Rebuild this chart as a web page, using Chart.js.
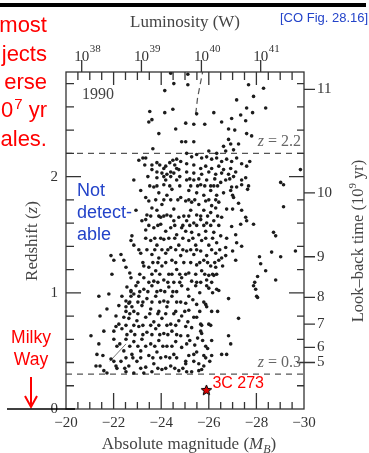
<!DOCTYPE html>
<html>
<head>
<meta charset="utf-8">
<script src="https://cdn.jsdelivr.net/npm/chart.js@4.4.1/dist/chart.umd.min.js"></script>
<style>
  html, body { margin: 0; padding: 0; background: #fff; overflow: hidden; }
  #wrap { position: relative; width: 369px; height: 453px; overflow: hidden; }
  #chart { position: absolute; left: 0; top: 0; }
  .note { position: absolute; font-family: "Liberation Sans", Arial, sans-serif; white-space: nowrap; }
  .red { color: #f00; }
  .blue { color: #2343c9; }
</style>
</head>
<body>
<div id="wrap">
  <canvas id="chart" width="369" height="453"></canvas>

  <div style="position:absolute;left:0;top:3px;width:366px;height:4px;background:#000"></div>

  <!-- cut-off slide text on the left -->
  <div class="note red" style="right:322px;top:14px;font-size:22px;line-height:22px">most</div>
  <div class="note red" style="right:322px;top:43px;font-size:22px;line-height:22px">jects</div>
  <div class="note red" style="right:322px;top:71px;font-size:22px;line-height:22px">erse</div>
  <div class="note red" style="right:322px;top:99px;font-size:22px;line-height:22px">10<span style="font-size:15px;position:relative;top:-8px;margin-left:1px">7</span> yr</div>
  <div class="note red" style="right:322px;top:128px;font-size:22px;line-height:22px">ales.</div>

  <div class="note blue" style="left:280px;top:11px;font-size:13px;line-height:13px">[CO Fig. 28.16]</div>

  <div class="note blue" style="left:77px;top:179px;font-size:18px;line-height:22px">Not<br>detect-<br>able</div>

  <div class="note red" style="left:0;width:62px;text-align:center;top:326px;font-size:17.5px;line-height:22px">Milky<br>Way</div>

  <svg style="position:absolute;left:0;top:0" width="369" height="453">
    <line x1="31" y1="377" x2="31" y2="406" stroke="#f00" stroke-width="2"/>
    <polyline points="25,396 31,407 37,396" fill="none" stroke="#f00" stroke-width="2"/>
    <line x1="7" y1="409" x2="75" y2="409" stroke="#000" stroke-width="1.6"/>
  </svg>
</div>

<script>
// --- Data ---
// absolute magnitude M_B and redshift z of each quasar
const quasars = [
  // z above 2.2
  [-24.40,2.89],[-24.53,2.80],[-24.15,2.74],[-23.52,2.56],[-24.15,2.55],[-24.49,2.58],[-23.61,2.49],[-23.48,2.47],
  [-24.61,2.41],[-23.90,2.37],[-24.86,2.30],[-23.65,2.24],[-25.12,2.79],[-27.67,2.79],[-28.30,2.76],[-27.88,2.69],
  [-27.17,2.66],[-27.59,2.59],[-27.84,2.55],[-26.21,2.55],[-25.49,2.54],[-27.34,2.53],[-26.96,2.50],[-27.55,2.48],
  [-26.54,2.47],[-25.03,2.46],[-25.37,2.45],[-25.83,2.45],[-26.83,2.41],[-27.09,2.40],[-27.59,2.37],[-27.80,2.35],
  [-25.03,2.30],[-25.37,2.30],[-26.83,2.32],[-26.92,2.28],[-27.25,2.28],[-26.62,2.26],[-26.00,2.22],[-26.33,2.20],
  [-26.71,2.22],[-27.04,2.23],[-28.39,2.59],[-25.12,2.88],
  // 1.8 - 2.2
  [-23.35,2.16],[-23.23,2.16],[-23.06,2.14],[-23.82,2.12],[-24.19,2.09],[-24.36,2.12],[-24.49,2.14],[-24.65,2.15],
  [-24.82,2.13],[-23.61,2.06],[-23.82,2.04],[-24.11,2.07],[-24.40,2.04],[-24.65,2.07],[-24.03,2.03],[-24.24,2.02],
  [-24.53,2.03],[-24.74,2.06],[-24.11,2.00],[-23.82,1.99],
  [-25.07,2.20],[-25.28,2.17],[-25.49,2.19],[-25.70,2.16],[-25.91,2.17],[-26.12,2.15],[-26.33,2.16],[-26.54,2.13],
  [-26.75,2.15],[-26.96,2.13],[-27.17,2.16],[-27.38,2.11],[-25.07,2.11],[-25.37,2.10],[-25.66,2.07],[-25.87,2.09],
  [-26.12,2.07],[-26.42,2.09],[-26.62,2.06],[-26.92,2.07],[-27.13,2.04],[-25.07,2.04],[-25.37,2.03],[-25.70,2.02],
  [-26.00,2.04],[-26.29,2.02],[-26.54,2.03],[-26.83,2.02],[-27.04,2.00],[-27.59,2.09],[-29.85,2.06],[-27.72,2.13],
  [-27.55,1.99],[-27.38,1.93],[-26.96,1.91],[-27.00,1.84],[-27.63,1.89],
  // 1.1 - 2.0, faint side
  [-22.85,1.97],[-23.14,1.88],[-23.35,1.82],[-23.48,1.79],[-22.94,1.71],[-23.19,1.62],[-23.35,1.63],[-22.77,1.49],
  [-22.73,1.45],[-22.85,1.41],[-22.31,1.33],[-22.43,1.28],[-21.89,1.32],[-22.01,1.28],[-23.06,1.37],[-23.14,1.34],
  [-22.52,1.22],[-22.68,1.17],[-21.93,1.16],[-22.73,1.13],[-23.27,1.23],
  [-23.69,1.91],[-23.90,1.86],[-24.11,1.93],[-24.24,1.84],[-24.45,1.89],[-24.65,1.97],[-24.82,1.82],[-23.61,1.73],
  [-23.82,1.71],[-24.03,1.76],[-24.24,1.67],[-24.53,1.72],[-24.74,1.65],[-23.69,1.56],[-23.98,1.59],[-24.19,1.53],
  [-24.40,1.56],[-24.65,1.50],[-23.56,1.45],[-23.82,1.41],[-24.11,1.46],[-24.40,1.39],[-24.74,1.41],[-23.61,1.33],
  [-23.90,1.30],[-24.19,1.34],[-24.45,1.28],[-24.82,1.32],[-23.48,1.22],[-23.77,1.19],[-24.03,1.23],[-24.32,1.16],
  [-24.65,1.20],[-24.86,1.13],[-23.27,1.13],[-23.69,1.10],[-24.11,1.11],[-24.53,1.09],[-23.35,1.54],[-23.40,1.67],
  [-24.19,1.97],[-24.53,1.62],[-23.98,1.65],[-24.86,1.56],
  // 1.1 - 2.0, bright side
  [-25.07,1.97],[-25.37,1.97],[-25.66,1.93],[-25.91,1.97],[-26.21,1.92],[-26.50,1.95],[-25.16,1.88],[-25.49,1.86],
  [-25.79,1.84],[-26.08,1.88],[-26.33,1.84],[-26.62,1.86],[-25.03,1.79],[-25.28,1.78],[-25.58,1.76],[-25.87,1.79],
  [-26.12,1.75],[-26.42,1.78],[-25.24,1.71],[-25.49,1.67],[-25.79,1.71],[-26.08,1.69],[-25.07,1.62],[-25.37,1.60],
  [-25.66,1.63],[-25.91,1.60],[-26.21,1.62],[-26.54,1.65],[-25.03,1.53],[-25.28,1.52],[-25.58,1.50],[-25.87,1.53],
  [-26.21,1.52],[-26.50,1.49],[-25.16,1.45],[-25.45,1.41],[-25.70,1.45],[-26.00,1.41],[-26.33,1.43],[-26.71,1.39],
  [-25.07,1.36],[-25.37,1.33],[-25.66,1.36],[-25.91,1.32],[-26.29,1.34],[-26.54,1.30],[-25.24,1.26],[-25.49,1.24],
  [-25.79,1.28],[-26.08,1.23],[-26.42,1.28],[-25.16,1.17],[-25.45,1.16],[-25.70,1.19],[-26.00,1.15],[-26.33,1.16],
  [-25.28,1.10],[-25.66,1.09],[-25.91,1.11],
  [-26.71,1.97],[-27.38,1.97],[-27.67,1.92],[-29.02,1.95],[-29.14,1.93],[-27.17,1.91],[-26.92,1.88],[-27.04,1.82],
  [-27.25,1.77],[-26.29,1.73],[-26.75,1.72],[-27.00,1.72],[-27.38,1.71],[-29.14,1.74],[-27.55,1.65],[-27.59,1.62],
  [-27.88,1.59],[-26.96,1.57],[-27.34,1.59],[-28.72,1.52],[-28.81,1.49],[-26.75,1.47],[-27.13,1.50],[-27.17,1.43],
  [-27.38,1.40],[-27.00,1.36],[-26.71,1.32],[-27.13,1.28],[-28.64,1.35],[-29.02,1.31],[-28.13,1.31],[-28.18,1.25],
  [-28.39,1.19],[-29.64,1.36],[-28.05,1.14],[-26.29,1.22],[-26.58,1.23],[-28.81,1.11],[-27.93,1.09],[-26.21,1.15],
  // 0.3 - 1.1, faint side
  [-21.38,0.97],[-21.80,0.99],[-21.72,0.86],[-21.43,0.80],[-22.10,0.80],[-21.59,0.67],[-21.05,0.63],[-21.38,0.56],
  [-21.30,0.47],[-21.55,0.46],[-21.26,0.37],[-21.43,0.37],[-21.59,0.33],[-21.72,0.31],[-21.89,0.43],[-22.01,0.41],
  [-22.10,0.37],[-22.14,0.54],[-22.26,0.56],[-22.01,0.60],[-22.01,0.67],[-22.10,0.71],[-22.22,0.73],[-22.43,0.79],
  [-22.52,0.84],[-22.35,0.97],[-22.52,0.93],[-22.22,0.89],[-22.73,1.02],[-22.85,0.99],[-22.64,0.91],[-22.77,0.88],
  [-22.56,1.05],[-22.94,1.06],[-23.27,1.03],[-23.61,1.06],[-23.98,1.02],[-24.32,1.05],[-24.65,1.01],[-24.86,1.06],
  [-22.73,0.97],[-23.06,0.97],[-23.40,0.95],[-23.77,0.97],[-24.11,0.93],[-24.45,0.97],[-24.82,0.92],[-22.52,0.88],
  [-22.85,0.84],[-23.19,0.89],[-23.56,0.86],[-23.90,0.84],[-24.24,0.88],[-24.61,0.84],[-24.86,0.80],[-22.64,0.78],
  [-22.98,0.76],[-23.35,0.79],[-23.69,0.75],[-24.03,0.78],[-24.40,0.73],[-24.74,0.76],[-22.35,0.69],[-22.73,0.67],
  [-23.06,0.71],[-23.40,0.66],[-23.77,0.69],[-24.11,0.65],[-24.45,0.67],[-24.82,0.63],[-22.52,0.60],[-22.85,0.58],
  [-23.19,0.60],[-23.56,0.56],[-23.90,0.59],[-24.24,0.54],[-24.61,0.58],[-24.86,0.53],[-22.43,0.50],[-22.77,0.47],
  [-23.14,0.50],[-23.48,0.46],[-23.82,0.49],[-24.19,0.45],[-24.53,0.47],[-22.31,0.41],[-22.64,0.37],[-22.98,0.41],
  [-23.35,0.36],[-23.69,0.39],[-24.03,0.34],[-24.40,0.37],[-24.74,0.33],[-22.52,0.32],[-22.85,0.31],[-23.27,0.31],
  [-23.61,0.32],
  // 0.3 - 1.1, bright side
  [-27.88,1.06],[-27.97,1.03],[-28.01,0.97],[-28.05,0.96],[-26.83,0.95],[-27.25,0.78],[-26.33,1.03],[-26.42,1.02],
  [-25.91,1.06],[-26.00,1.04],[-25.79,0.92],[-25.87,0.90],[-25.91,0.88],[-26.12,0.84],[-25.49,0.79],[-25.66,0.73],
  [-25.70,0.72],[-26.00,0.73],[-26.08,0.72],[-25.66,0.67],[-25.70,0.65],[-26.83,0.63],[-26.92,0.56],[-25.07,0.56],
  [-25.87,0.54],[-25.95,0.52],[-25.37,0.47],[-25.79,0.46],[-25.87,0.44],[-26.12,0.46],[-26.54,0.47],[-26.75,0.47],
  [-25.37,0.41],[-25.58,0.39],[-25.79,0.37],[-25.70,0.34],[-25.07,0.32],[-25.28,0.32],[-25.58,0.33],[-25.16,0.97],
  [-25.45,1.06],[-25.03,0.91],[-25.37,0.79],[-25.03,0.71],[-25.12,1.03],[-25.33,0.94],[-25.16,0.85],[-25.49,0.90],
  [-25.12,0.75],[-25.28,0.70],[-25.53,0.61],[-25.12,0.63],[-25.41,0.55],[-25.16,0.46],[-25.49,0.49],[-25.03,0.39]
];

// the crowded core of the cloud, where the dots nearly touch
const quasarsCore = [
  [-22.73,1.01],[-23.10,1.01],[-23.44,1.01],[-23.82,1.01],[-24.15,1.01],[-24.49,1.01],
  [-22.68,0.92],[-23.02,0.92],[-23.23,0.92],[-23.61,0.92],[-23.94,0.92],[-24.28,0.92],[-24.65,0.92],
  [-22.68,0.82],[-23.02,0.82],[-23.52,0.82],[-23.86,0.82],[-24.19,0.82],[-24.53,0.82],
  [-22.52,0.72],[-22.85,0.72],[-23.23,0.72],[-23.56,0.72],[-23.90,0.72],[-24.24,0.72],[-24.61,0.72],
  [-22.56,0.64],[-22.89,0.64],[-23.23,0.64],[-23.61,0.64],[-23.94,0.64],[-24.28,0.64],[-24.65,0.64],
  [-22.68,0.54],[-23.02,0.54],[-23.35,0.54],[-23.73,0.54],[-24.07,0.54],[-24.45,0.54],
  [-22.52,0.44],[-22.81,0.44],[-23.14,0.44],[-23.65,0.44],[-23.98,0.44],[-24.36,0.44],[-24.65,0.44],
  [-22.14,0.35],[-22.47,0.35],[-23.14,0.35],[-23.86,0.35],[-24.19,0.35],[-24.57,0.35],[-24.91,0.35],
  [-23.52,1.92],[-23.82,1.92],[-24.36,1.92],[-24.78,1.92],[-25.24,1.92],[-25.53,1.92],[-25.83,1.92],[-26.08,1.92],[-26.37,1.92],
  [-23.77,1.80],[-24.11,1.80],[-24.40,1.80],[-24.70,1.80],[-25.16,1.80],[-25.41,1.80],[-26.00,1.80],[-26.29,1.80],
  [-23.56,1.66],[-23.90,1.66],[-24.11,1.66],[-24.40,1.66],[-24.95,1.66],[-25.16,1.66],[-25.66,1.66],[-25.95,1.66],[-26.37,1.66],
  [-23.48,1.58],[-23.86,1.58],[-24.57,1.58],[-24.91,1.58],[-25.20,1.58],[-25.49,1.58],[-25.79,1.58],[-26.08,1.58],[-26.42,1.58],
  [-23.35,1.47],[-23.73,1.47],[-23.98,1.47],[-24.32,1.47],[-24.57,1.47],[-24.91,1.47],[-25.33,1.47],[-25.87,1.47],[-26.16,1.47],
  [-23.40,1.37],[-23.73,1.37],[-24.03,1.37],[-24.28,1.37],[-24.61,1.37],[-24.91,1.37],[-25.24,1.37],[-25.49,1.37],[-26.12,1.37],[-26.46,1.37],
  [-23.23,1.26],[-23.65,1.26],[-23.86,1.26],[-24.19,1.26],[-24.61,1.26],[-24.95,1.26],[-25.62,1.26],[-25.95,1.26],[-26.25,1.26],
  [-23.10,1.16],[-23.61,1.16],[-23.94,1.16],[-24.45,1.16],[-24.78,1.16],[-25.03,1.16],[-25.83,1.16],[-26.16,1.16],
  [-23.02,1.09],[-23.48,1.09],[-23.86,1.09],[-24.28,1.09],[-24.78,1.09],[-25.49,1.09],[-26.12,1.09],
  [-25.62,1.00],[-26.16,1.00],[-24.99,0.84],[-25.62,0.84],[-26.37,0.84],[-25.20,0.59],[-25.74,0.59],[-26.12,0.59],
  [-25.03,0.41],[-26.04,0.41],
  [-25.20,1.98],[-25.58,1.98],[-26.25,1.98],[-26.88,1.98],
  [-23.31,2.10],[-23.61,2.10],[-23.94,2.10],[-24.57,2.10],[-23.44,2.00],[-24.40,2.00],[-24.78,2.00]
];

const star3C273 = [-25.9, 0.16];
const zCuts = [2.2, 0.3];
// visible pieces of the detection-limit curve
const limitLow = [[-21.84, 0.41], [-22.52, 0.56]];
const limitHigh = [[-25.45, 2.54], [-25.53, 2.68], [-25.74, 2.90]];

// axes
const magTicks = [-20, -22, -24, -26, -28, -30];
const zTicks = [0, 1, 2];
const lumExponents = [38, 39, 40, 41];
const lumMag = [-20.66, -23.17, -25.69, -28.18];
const lookbackGyr = [11, 10, 9, 8, 7, 6, 5];
const lookbackZ = [2.75, 1.86, 1.31, 0.96, 0.73, 0.53, 0.40];

const SERIF = "'Liberation Serif', 'Times New Roman', serif";
const SANS = "'Liberation Sans', Arial, sans-serif";

// --- star marker for 3C 273 ---
function makeStar(size) {
  const c = document.createElement("canvas");
  c.width = size;
  c.height = size;
  const g = c.getContext("2d");
  const R = size / 2 - 1, r = R * 0.45;
  g.beginPath();
  for (let i = 0; i < 10; i++) {
    const ang = -Math.PI / 2 + (i * Math.PI) / 5;
    const rad = i % 2 ? r : R;
    g.lineTo(size / 2 + rad * Math.cos(ang), size / 2 + rad * Math.sin(ang));
  }
  g.closePath();
  g.fillStyle = "#e00000";
  g.fill();
  g.strokeStyle = "#000";
  g.lineWidth = 1;
  g.stroke();
  return c;
}

// draw a run of [text, font, dy] pieces starting at x
function drawPieces(ctx, pieces, x, y) {
  let cx = x;
  pieces.forEach(([t, f, dy]) => {
    ctx.font = f;
    ctx.fillText(t, cx, y + (dy || 0));
    cx += ctx.measureText(t).width;
  });
}
function piecesWidth(ctx, pieces) {
  let w = 0;
  pieces.forEach(([t, f]) => {
    ctx.font = f;
    w += ctx.measureText(t).width;
  });
  return w;
}

// --- frame, inward ticks, extra axes and titles ---
const framePlugin = {
  id: "frame",
  afterDraw(chart) {
    const { ctx, chartArea: a, scales } = chart;
    const x = scales.x, y = scales.y;
    ctx.save();
    ctx.strokeStyle = "#333";
    ctx.lineWidth = 1.3;
    ctx.strokeRect(a.left, a.top, a.right - a.left, a.bottom - a.top);

    ctx.beginPath();
    for (let m = -20.5; m > -30; m -= 0.5) {
      const px = x.getPixelForValue(m);
      const major = Math.abs(m % 2) < 1e-6;
      ctx.moveTo(px, a.bottom);
      ctx.lineTo(px, a.bottom - (major ? 16 : 7));
      ctx.moveTo(px, a.top);
      ctx.lineTo(px, a.top + (major ? 13 : 8));
    }
    for (let i = 1; i <= 14; i++) {
      const z = i * 0.2;
      const py = y.getPixelForValue(z);
      const major = i % 5 === 0;
      ctx.moveTo(a.left, py);
      ctx.lineTo(a.left + (major ? 15 : 8), py);
      ctx.moveTo(a.right, py);
      ctx.lineTo(a.right - (major ? 15 : 7), py);
    }
    // luminosity ticks (outward, top)
    lumMag.forEach((m) => {
      const px = scales.xTop.getPixelForValue(m);
      ctx.moveTo(px, a.top);
      ctx.lineTo(px, a.top - 12);
    });
    // look-back time ticks (outward, right)
    lookbackZ.forEach((z) => {
      const py = scales.yR.getPixelForValue(z);
      ctx.moveTo(a.right, py);
      ctx.lineTo(a.right + 11, py);
    });
    ctx.stroke();

    ctx.fillStyle = "#333";
    ctx.textBaseline = "alphabetic";
    // luminosity labels 10^n
    lumMag.forEach((m, i) => {
      const px = scales.xTop.getPixelForValue(m);
      ctx.font = "15px " + SERIF;
      const w = ctx.measureText("10").width;
      ctx.textAlign = "center";
      ctx.fillText("10", px, a.top - 11);
      ctx.textAlign = "left";
      ctx.font = "11px " + SERIF;
      ctx.fillText(String(lumExponents[i]), px + w / 2 + 0.5, a.top - 20);
    });

    ctx.fillStyle = "#444";
    ctx.textAlign = "center";
    ctx.font = "17px " + SERIF;
    ctx.fillText("Luminosity (W)", (a.left + a.right) / 2, 27);

    ctx.textAlign = "left";
    const bottomTitle = [
      ["Absolute magnitude (", "17px " + SERIF],
      ["M", "italic 17px " + SERIF],
      ["B", "italic 12px " + SERIF, 4],
      [")", "17px " + SERIF],
    ];
    drawPieces(ctx, bottomTitle, 189 - piecesWidth(ctx, bottomTitle) / 2, 449);

    const leftTitle = [
      ["Redshift (", "17px " + SERIF],
      ["z", "italic 17px " + SERIF],
      [")", "17px " + SERIF],
    ];
    ctx.save();
    ctx.translate(37, 241);
    ctx.rotate(-Math.PI / 2);
    drawPieces(ctx, leftTitle, -piecesWidth(ctx, leftTitle) / 2, 0);
    ctx.restore();

    const rightTitle = [
      ["Look\u2013back time (10", "16.5px " + SERIF],
      ["9", "11px " + SERIF, -7],
      [" yr)", "16.5px " + SERIF],
    ];
    ctx.save();
    ctx.translate(363, 241);
    ctx.rotate(-Math.PI / 2);
    drawPieces(ctx, rightTitle, -piecesWidth(ctx, rightTitle) / 2, 0);
    ctx.restore();

    // labels inside the frame
    ctx.font = "16px " + SERIF;
    ctx.fillText("1990", 82, 99);
    ctx.fillStyle = "#666";
    zCuts.forEach((z) => {
      const py = y.getPixelForValue(z) - 7;
      const lab = [
        ["z", "italic 16px " + SERIF],
        [" = " + z.toFixed(1), "16px " + SERIF],
      ];
      drawPieces(ctx, lab, a.right - 3 - piecesWidth(ctx, lab), py);
    });

    // 3C 273 label next to the star
    ctx.fillStyle = "#f00";
    ctx.font = "16px " + SANS;
    ctx.fillText("3C 273", x.getPixelForValue(star3C273[0]) + 6, y.getPixelForValue(star3C273[1]) - 2.5);
    ctx.restore();
  },
};

const toXY = (p) => ({ x: p[0], y: p[1] });
const tickFont = { family: SERIF, size: 15 };
const dotStyle = { pointRadius: 1.8, backgroundColor: "#1c1c1c", borderWidth: 0, order: 1 };

new Chart(document.getElementById("chart"), {
  type: "scatter",
  data: {
    datasets: [
      {
        data: [toXY(star3C273)],
        pointStyle: makeStar(13),
        pointRadius: 6,
        order: 0,
      },
      { data: quasars.map(toXY), ...dotStyle },
      { data: quasarsCore.map(toXY), ...dotStyle },
      ...zCuts.map((z) => ({
        type: "line",
        data: [toXY([-20, z]), toXY([-30, z])],
        borderColor: "#555",
        borderWidth: 1.2,
        borderDash: [6, 5],
        pointRadius: 0,
        order: 2,
      })),
      {
        type: "line",
        data: limitLow.map(toXY),
        borderColor: "#777",
        borderWidth: 1,
        pointRadius: 0,
        order: 2,
      },
      {
        type: "line",
        data: limitHigh.map(toXY),
        borderColor: "#555",
        borderWidth: 1.2,
        borderDash: [6, 4],
        pointRadius: 0,
        order: 2,
      },
    ],
  },
  options: {
    responsive: false,
    animation: false,
    events: [],
    layout: { padding: 0 },
    plugins: { legend: { display: false }, tooltip: { enabled: false } },
    scales: {
      x: {
        type: "linear",
        position: "bottom",
        min: -30,
        max: -20,
        reverse: true,
        grid: { display: false, drawTicks: false },
        border: { display: false },
        afterBuildTicks: (s) => { s.ticks = magTicks.map((v) => ({ value: v })); },
        afterFit: (s) => { s.height = 44; },
        ticks: {
          autoSkip: false,
          maxRotation: 0,
          padding: 5,
          color: "#333",
          font: tickFont,
          callback: (v) => "\u2212" + Math.abs(v),
        },
      },
      xTop: {
        type: "linear",
        position: "top",
        min: -30,
        max: -20,
        reverse: true,
        grid: { display: false, drawTicks: false },
        border: { display: false },
        ticks: { display: false },
        afterFit: (s) => { s.height = 72; },
      },
      y: {
        type: "linear",
        position: "left",
        min: 0,
        max: 2.9,
        grid: { display: false, drawTicks: false },
        border: { display: false },
        afterBuildTicks: (s) => { s.ticks = zTicks.map((v) => ({ value: v })); },
        afterFit: (s) => { s.width = 66; },
        ticks: { autoSkip: false, padding: 8, color: "#333", font: tickFont, callback: (v) => String(v) },
      },
      yR: {
        type: "linear",
        position: "right",
        min: 0,
        max: 2.9,
        grid: { display: false, drawTicks: false },
        border: { display: false },
        afterBuildTicks: (s) => { s.ticks = lookbackZ.map((v) => ({ value: v })); },
        afterFit: (s) => { s.width = 65; },
        ticks: {
          autoSkip: false,
          padding: 13,
          color: "#333",
          font: tickFont,
          callback: (v, i) => String(lookbackGyr[i]),
        },
      },
    },
  },
  plugins: [framePlugin],
});
</script>
</body>
</html>
